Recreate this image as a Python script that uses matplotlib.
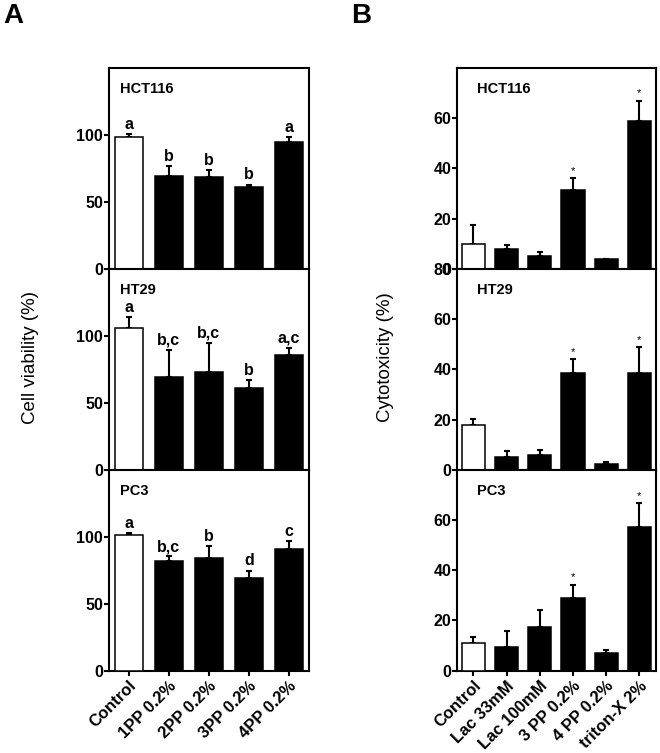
import numpy as np
import matplotlib
matplotlib.use("Agg")
import matplotlib.pyplot as plt

plt.rcParams['font.family'] = ['Liberation Sans', 'DejaVu Sans']

# panel A - cell viability
groups_a = ['Control', '1PP 0.2%', '2PP 0.2%', '3PP 0.2%', '4PP 0.2%']
hct_a = [98.5, 69.6, 68.7, 61.2, 94.5]
hct_a_err = [2.5, 7.0, 5.3, 1.8, 3.8]
hct_a_let = ['a', 'b', 'b', 'b', 'a']
ht29_a = [105.9, 69.3, 72.8, 61.2, 85.4]
ht29_a_err = [8.0, 20.3, 22.2, 5.9, 5.9]
ht29_a_let = ['a', 'b,c', 'b,c', 'b', 'a,c']
pc3_a = [101.5, 81.7, 84.4, 69.3, 90.6]
pc3_a_err = [1.5, 3.7, 8.7, 5.5, 6.4]
pc3_a_let = ['a', 'b,c', 'b', 'd', 'c']

# panel B - cytotoxicity
groups_b = ['Control', 'Lac 33mM', 'Lac 100mM', '3 PP 0.2%', '4 PP 0.2%', 'triton-X 2%']
hct_b = [10.0, 7.9, 5.1, 31.5, 3.8, 58.7]
hct_b_err = [7.5, 1.6, 1.5, 4.8, 0.0, 8.3]
ht29_b = [17.9, 5.1, 5.9, 38.6, 2.5, 38.6]
ht29_b_err = [2.2, 2.5, 1.9, 5.6, 0.7, 10.4]
pc3_b = [11.2, 9.5, 17.3, 29.0, 7.2, 57.1]
pc3_b_err = [2.3, 6.5, 6.9, 5.3, 1.1, 9.8]
stars_b = ['', '', '', '*', '', '*']

lines = ['HCT116', 'HT29', 'PC3']

fig = plt.figure(figsize=(6.6, 7.53), dpi=100)

top, bot = 0.9097, 0.1093
h = (top - bot) / 3


def draw(ax, vals, errs, marks, ymax, ticks, name, bold_marks, namex):
    x = np.arange(len(vals))
    colors = ['white'] + ['black'] * (len(vals) - 1)
    ax.bar(x, vals, width=0.7, color=colors, edgecolor='black', linewidth=1.1, zorder=3)
    ax.errorbar(x, vals, yerr=[np.zeros(len(vals)), errs], fmt='none', ecolor='black',
                elinewidth=1.5, capsize=2.2, capthick=1.5, zorder=2)
    for xi, v, e, m in zip(x, vals, errs, marks):
        if m:
            ax.annotate(m, (xi, v + e), xytext=(0, 1.5), textcoords='offset points',
                        ha='center', va='bottom',
                        fontsize=11.5 if bold_marks else 8,
                        fontweight='bold' if bold_marks else 'normal')
    ax.set_xlim(-0.5, len(vals) - 0.5)
    ax.set_ylim(0, ymax)
    ax.set_yticks(ticks)
    ax.set_yticklabels([str(t) for t in ticks], fontweight='bold', fontsize=11.5)
    for s in ax.spines.values():
        s.set_linewidth(1.5)
    ax.tick_params(axis='both', direction='out', length=3.5, width=1.5, pad=0.5)
    ax.text(namex, 0.895, name, transform=ax.transAxes, fontsize=10.5,
            fontweight='bold', va='center', ha='left')


data_a = [(hct_a, hct_a_err, hct_a_let), (ht29_a, ht29_a_err, ht29_a_let), (pc3_a, pc3_a_err, pc3_a_let)]
data_b = [(hct_b, hct_b_err, [0, 20, 40, 60]), (ht29_b, ht29_b_err, [0, 20, 40, 60, 80]),
          (pc3_b, pc3_b_err, [0, 20, 40, 60])]

for i in range(3):
    y0 = top - (i + 1) * h
    ax = fig.add_axes([0.1647, y0, 0.468 - 0.1647, h])
    v, e, l = data_a[i]
    draw(ax, v, e, l, 150, [0, 50, 100], lines[i], True, 0.056)
    if i < 2:
        ax.tick_params(axis='x', bottom=False, labelbottom=False)
    else:
        ax.set_xticks(np.arange(len(groups_a)))
        ax.set_xticklabels(groups_a, rotation=45, ha='right', rotation_mode='anchor',
                           fontweight='bold', fontsize=12)
        ax.tick_params(axis='x', pad=2)

    axb = fig.add_axes([0.692, y0, 0.994 - 0.692, h])
    v, e, t = data_b[i]
    draw(axb, v, e, stars_b, 80, t, lines[i], False, 0.10)
    if i < 2:
        axb.tick_params(axis='x', bottom=False, labelbottom=False)
    else:
        axb.set_xticks(np.arange(len(groups_b)))
        axb.set_xticklabels(groups_b, rotation=45, ha='right', rotation_mode='anchor',
                            fontweight='bold', fontsize=12)
        axb.tick_params(axis='x', pad=2)

fig.text(31 / 660, 1 - 357.5 / 753, 'Cell viability (%)', rotation=90, ha='center', va='center', fontsize=13.5)
fig.text(386 / 660, 1 - 357.5 / 753, 'Cytotoxicity (%)', rotation=90, ha='center', va='center', fontsize=13.5)
fig.text(13.5 / 660, 1 - 16 / 753, 'A', fontsize=20, fontweight='bold', ha='center', va='center')
fig.text(361 / 660, 1 - 16 / 753, 'B', fontsize=20, fontweight='bold', ha='center', va='center')

fig.savefig('out.png', dpi=100)
